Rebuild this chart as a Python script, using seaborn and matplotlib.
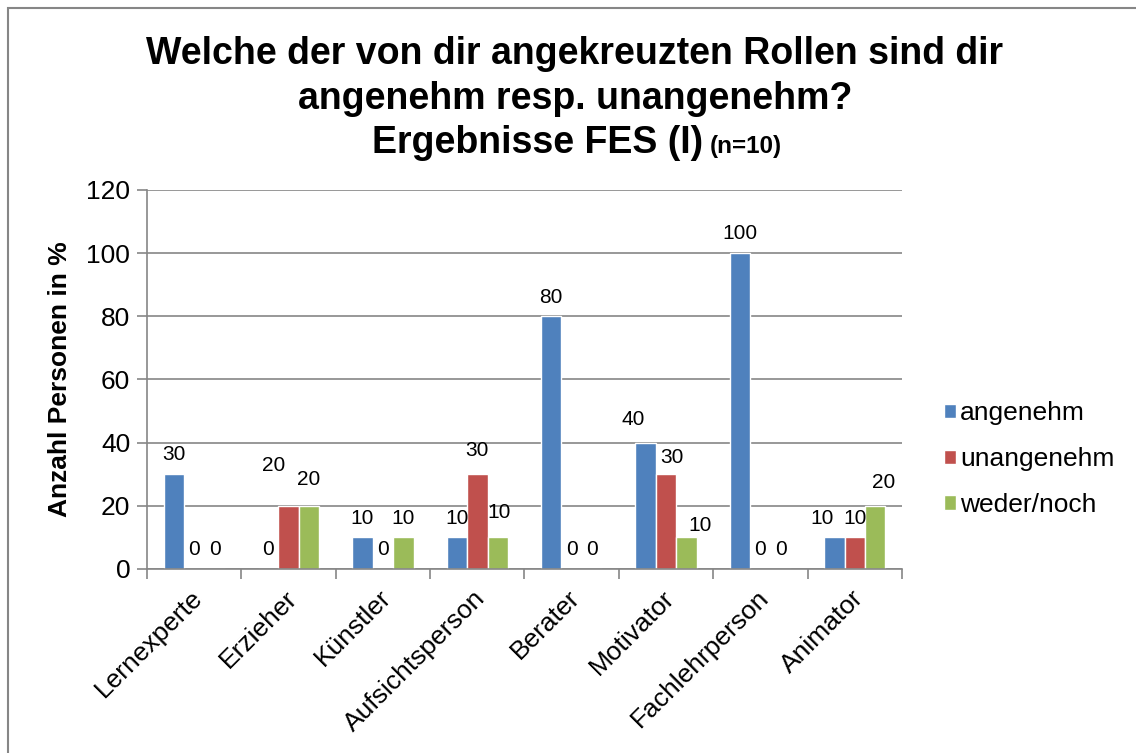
import matplotlib
matplotlib.use("Agg")
import matplotlib.pyplot as plt
import matplotlib.transforms as mtrans
import numpy as np
import pandas as pd
import seaborn as sns
from matplotlib.patches import Rectangle

rollen = ["Lernexperte", "Erzieher", "Künstler", "Aufsichtsperson",
          "Berater", "Motivator", "Fachlehrperson", "Animator"]
angenehm = [30, 0, 10, 10, 80, 40, 100, 10]
unangenehm = [0, 20, 0, 30, 0, 30, 0, 10]
weder_noch = [0, 20, 10, 10, 0, 10, 0, 20]
serien = ["angenehm", "unangenehm", "weder/noch"]
farben = ["#4F81BD", "#C0504D", "#9BBB59"]

# Excel schiebt einige Beschriftungen zur Seite (in Punkten)
verschiebung = {
    ("unangenehm", "Erzieher"): (-11, 15),
    ("weder/noch", "Erzieher"): (0, 5),
    ("unangenehm", "Aufsichtsperson"): (0, 3),
    ("weder/noch", "Aufsichtsperson"): (1, 4),
    ("angenehm", "Motivator"): (-9, 3),
    ("unangenehm", "Motivator"): (4, -2),
    ("weder/noch", "Motivator"): (10, -5),
    ("angenehm", "Animator"): (-9, 0),
    ("weder/noch", "Animator"): (6, 3),
}

df = pd.DataFrame({
    "Rolle": rollen * 3,
    "Wert": angenehm + unangenehm + weder_noch,
    "Serie": sum([[s] * len(rollen) for s in serien], []),
})

sns.set_style("white")
plt.rcParams["font.family"] = ["Liberation Sans", "DejaVu Sans"]
plt.rcParams["text.color"] = "black"
plt.rcParams["axes.labelcolor"] = "black"

fig = plt.figure(figsize=(11.36, 7.53), dpi=100)
ax = fig.add_axes([0.1294, 0.2444, 0.6646, 0.5033])

sns.barplot(data=df, x="Rolle", y="Wert", hue="Serie", palette=farben,
            width=0.65, ax=ax, saturation=1, legend=True)

pad = 7
for serie, cont in zip(serien, ax.containers):
    anns = ax.bar_label(cont, fmt="%d", padding=pad, fontsize=15, color="black")
    for rolle, ann in zip(rollen, anns):
        dx, dy = verschiebung.get((serie, rolle), (0, 0))
        ann.xyann = (dx, pad + dy)

ax.set_ylim(0, 120)
ax.set_yticks(np.arange(0, 121, 20))
ax.set_xlim(-0.5, len(rollen) - 0.5)
ax.yaxis.grid(True, color="#868686", linewidth=1.2)
ax.set_axisbelow(True)
for s in ["top", "right"]:
    ax.spines[s].set_visible(False)
for s in ["left", "bottom"]:
    ax.spines[s].set_color("#868686")
    ax.spines[s].set_linewidth(1.2)

ax.set_xticks(np.arange(len(rollen)))
ax.set_xticklabels(rollen, rotation=45, ha="right", rotation_mode="anchor", fontsize=19)
ax.tick_params(axis="x", length=0, pad=12, labelcolor="black")
shift = mtrans.ScaledTranslation(-4 / 100, 0, fig.dpi_scale_trans)
for lbl in ax.get_xticklabels():
    lbl.set_transform(lbl.get_transform() + shift)
ax.set_xticks(np.arange(-0.5, len(rollen)), minor=True)
ax.tick_params(axis="x", which="minor", length=7, color="#868686", width=1.2, bottom=True)
ax.tick_params(axis="y", labelsize=19, length=7, color="#868686", width=1.2, left=True,
               labelcolor="black", pad=5)
ax.set_xlabel("")
ax.set_ylabel("Anzahl Personen in %", fontsize=19, fontweight="bold", labelpad=10)

handles, labels = ax.get_legend_handles_labels()
ax.legend(handles, labels, loc="center left", bbox_to_anchor=(931 / 1136, 1 - 459 / 753),
          bbox_transform=fig.transFigure, frameon=False, fontsize=19, borderpad=0,
          handlelength=0.45, handleheight=0.45, handletextpad=0.15, labelspacing=0.83)

fig.text(0.506, 1 - 64 / 753, "Welche der von dir angekreuzten Rollen sind dir",
         ha="center", va="baseline", fontsize=27, fontweight="bold")
fig.text(0.506, 1 - 109 / 753, "angenehm resp. unangenehm?",
         ha="center", va="baseline", fontsize=27, fontweight="bold")
fig.text(703 / 1136, 1 - 153 / 753, "Ergebnisse FES (I)", ha="right", va="baseline",
         fontsize=27, fontweight="bold")
fig.text(710 / 1136, 1 - 153 / 753, "(n=10)", ha="left", va="baseline",
         fontsize=17.5, fontweight="bold")

fig.patches.append(Rectangle((8 / 1136, -0.1), 1.2, 1 - 8 / 753 + 0.1,
                             transform=fig.transFigure, fill=False,
                             edgecolor="#868686", linewidth=1.5))

fig.savefig("out.png", dpi=100)
